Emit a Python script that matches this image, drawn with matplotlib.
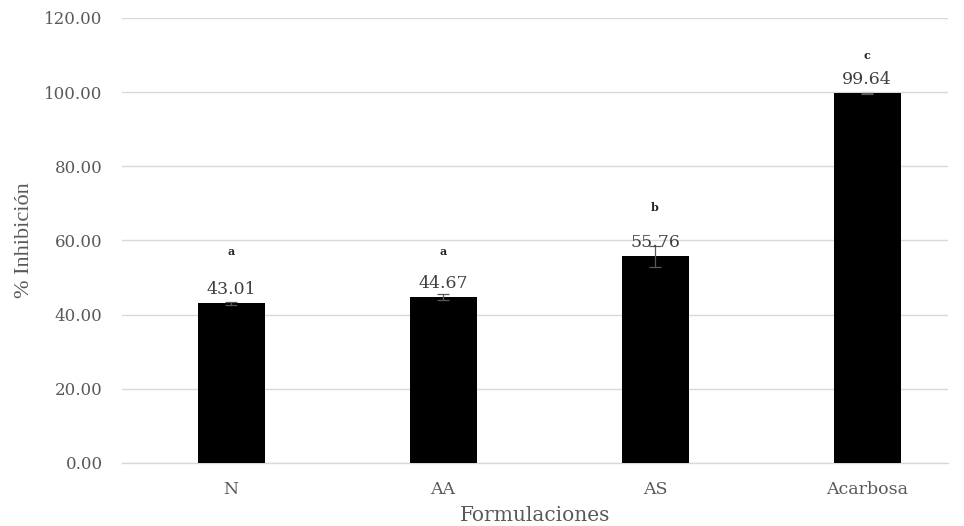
import matplotlib
matplotlib.use("Agg")
import matplotlib.pyplot as plt

categories = ["N", "AA", "AS", "Acarbosa"]
values = [43.01, 44.67, 55.76, 99.64]
errors = [0.35, 0.8, 2.8, 0.2]
letters = ["a", "a", "b", "c"]
letter_y = [57.0, 57.0, 69.0, 110.0]
yticks = [0, 20, 40, 60, 80, 100, 120]

plt.rcParams['font.family'] = ['DejaVu Serif', 'Liberation Serif']

fig = plt.figure(figsize=(9.64, 5.26), dpi=100)
ax = fig.add_axes([0.1266, 0.1198, 0.9834 - 0.1266, 0.9658 - 0.1198])

x = list(range(len(categories)))
ax.bar(x, values, width=0.316, color="black", zorder=3)
ax.errorbar(x, values, yerr=errors, fmt="none", ecolor="#595959", elinewidth=0.9,
            capsize=4, capthick=0.9, zorder=4)

for xi, v, l, ly in zip(x, values, letters, letter_y):
    ax.annotate(f"{v:.2f}", (xi, v), xytext=(0, 4), textcoords="offset points",
                ha="center", va="bottom", fontsize=12.5, color="#404040", zorder=5)
    ax.text(xi, ly, l, ha="center", va="center", fontsize=8, fontweight="bold",
            color="#262626", zorder=5)

ax.set_xlim(-0.514, 3.382)
ax.set_ylim(0, 120)
ax.set_yticks(yticks)
ax.set_yticklabels([f"{t:.2f}" for t in yticks], fontsize=12, color="#595959")
ax.set_xticks(x)
ax.set_xticklabels(categories, fontsize=12.5, color="#595959")
ax.tick_params(axis="y", length=0, pad=14)
ax.tick_params(axis="x", length=0, pad=13)
ax.grid(axis="y", color="#d9d9d9", linewidth=1, zorder=0)
for s in ["top", "right", "left"]:
    ax.spines[s].set_visible(False)
ax.spines["bottom"].set_color("#d9d9d9")
ax.spines["bottom"].set_linewidth(1)

ax.set_ylabel("% Inhibición", fontsize=16, color="#595959",
              family=["Liberation Serif", "DejaVu Serif"])
ax.yaxis.set_label_coords(-0.106, 0.5)
ax.set_xlabel("Formulaciones", fontsize=14.5, color="#595959", labelpad=6)

fig.savefig("out.png", dpi=100)
